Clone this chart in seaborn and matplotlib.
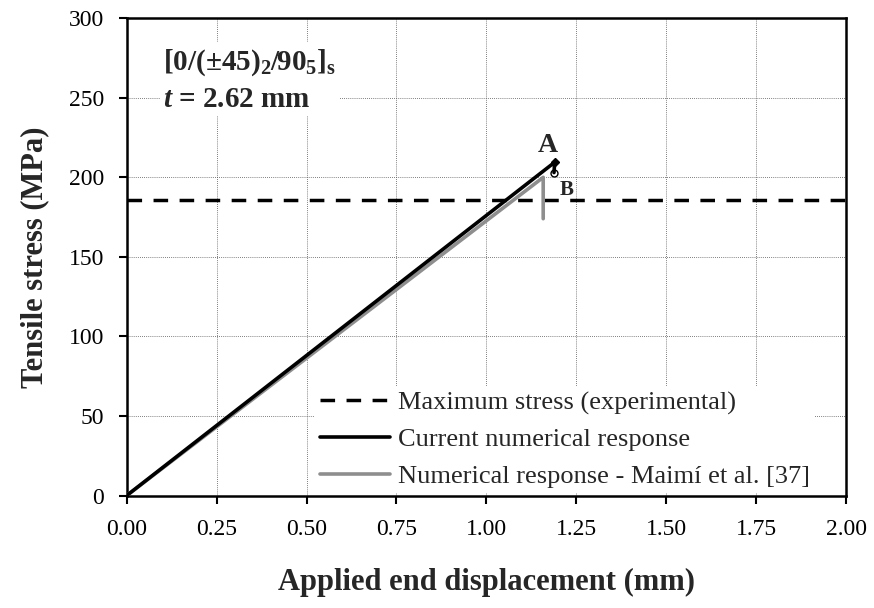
import matplotlib
matplotlib.use("Agg")
import matplotlib.pyplot as plt
import seaborn as sns
import pandas as pd

# values
disp_current = [0.0, 1.19, 1.188]
stress_current = [0.0, 209.5, 203.0]
disp_maimi = [0.0, 1.158, 1.158]
stress_maimi = [0.0, 200.0, 174.0]
max_stress_exp = 186.0

x_ticks = [0.0, 0.25, 0.5, 0.75, 1.0, 1.25, 1.5, 1.75, 2.0]
y_ticks = [0, 50, 100, 150, 200, 250, 300]

sns.set_theme(style="white")
plt.rcParams['font.family'] = ['Liberation Serif', 'DejaVu Serif']
plt.rcParams['mathtext.fontset'] = 'custom'
plt.rcParams['mathtext.rm'] = 'Liberation Serif:bold'
plt.rcParams['mathtext.bf'] = 'Liberation Serif:bold'
plt.rcParams['mathtext.it'] = 'Liberation Serif:italic:bold'

current = pd.DataFrame({"disp": disp_current, "stress": stress_current})
maimi = pd.DataFrame({"disp": disp_maimi, "stress": stress_maimi})

fig, ax = plt.subplots(figsize=(8.74, 6.08), dpi=100)
fig.subplots_adjust(left=0.145, right=0.968, top=0.970, bottom=0.185)

ax.axhline(max_stress_exp, color="black", linestyle=(0, (4.2, 3.3)), linewidth=2.5,
           label="Maximum stress (experimental)", zorder=3)
sns.lineplot(data=current, x="disp", y="stress", sort=False, estimator=None, color="black",
             linewidth=2.6, label="Current numerical response", ax=ax, zorder=5)
sns.lineplot(data=maimi, x="disp", y="stress", sort=False, estimator=None, color="#8e8e8e",
             linewidth=2.6, label="Numerical response - Maimí et al. [37]", ax=ax, zorder=4)

# failure points A and B
ax.plot(disp_current[1], stress_current[1], marker="D", markersize=4, color="black", zorder=6)
ax.plot(disp_current[2], stress_current[2], marker="o", markersize=5, markerfacecolor="none",
        markeredgecolor="black", markeredgewidth=1, zorder=6)
ax.text(1.172, 220, "A", fontsize=20, fontweight="bold", ha="center", va="center")
ax.text(1.222, 192, "B", fontsize=15, fontweight="bold", ha="center", va="center")

ax.set_xlim(0, 2)
ax.set_ylim(0, 300)
ax.set_xticks(x_ticks)
ax.set_yticks(y_ticks)
ax.set_xticklabels([f"{v:.2f}" for v in x_ticks])
ax.tick_params(axis="both", direction="out", length=6, width=1.5, labelsize=17,
               colors="black", bottom=True, left=True)
ax.tick_params(axis="x", pad=11)
ax.tick_params(axis="y", pad=10.5)
ax.grid(True, color="#555555", linestyle=(0, (1, 1.5)), linewidth=0.6)
for s in ax.spines.values():
    s.set_color("black")
    s.set_linewidth(1.8)

ax.set_xlabel("Applied end displacement (mm)", fontsize=22, fontweight="bold", labelpad=20)
ax.set_ylabel("Tensile stress (MPa)", fontsize=22, fontweight="bold", labelpad=14)

ax.text(0.05, 0.94, "[0/(±45)$_{2}$/90$_{5}$]$_{\\mathrm{s}}$\n$\\mathit{t}$ = 2.62 mm",
        transform=ax.transAxes, fontsize=21, fontweight="bold", va="top", ha="left",
        linespacing=1.4, zorder=7,
        bbox=dict(facecolor="white", edgecolor="none", pad=2))

leg = ax.legend(loc="lower left", bbox_to_anchor=(0.262, 0.005), frameon=True, fontsize=19,
                handlelength=2.65, handletextpad=0.27, borderaxespad=0, borderpad=0.2,
                labelspacing=0.49)
leg.get_frame().set_facecolor("white")
leg.get_frame().set_edgecolor("none")
leg.get_frame().set_alpha(1)

fig.savefig("out.png", dpi=100)
